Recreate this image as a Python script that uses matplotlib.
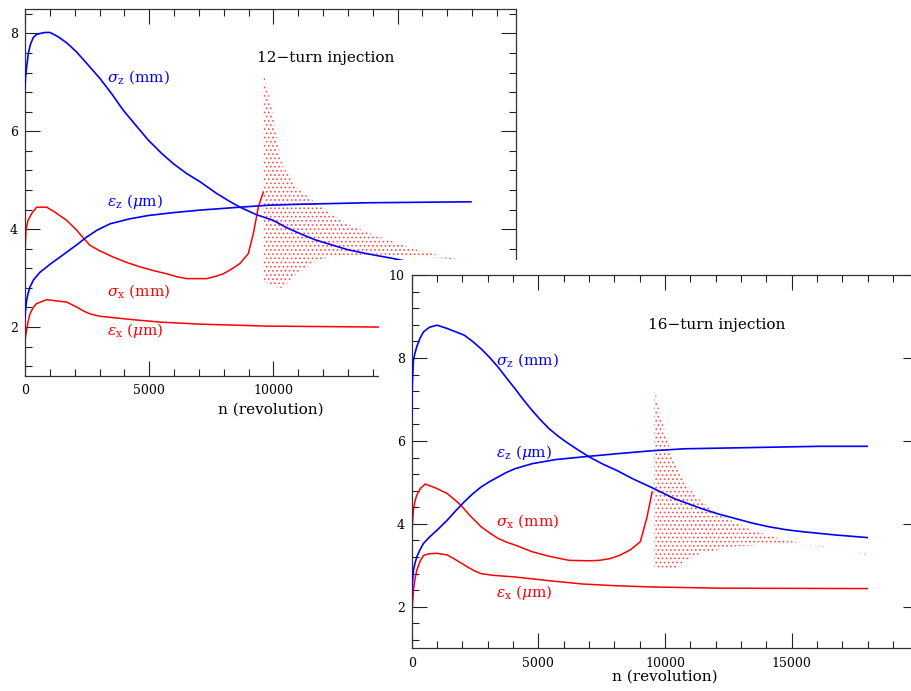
import matplotlib
matplotlib.use("Agg")
import matplotlib.pyplot as plt
from matplotlib.ticker import MultipleLocator, FixedLocator
from matplotlib.patches import Rectangle

plt.rcParams['font.family'] = ['DejaVu Serif']
plt.rcParams['mathtext.fontset'] = 'dejavuserif'
plt.rcParams['hatch.linewidth'] = 0.8

BLUE = '#0000ff'
RED = '#ff0000'

# ---------------- 12-turn injection (top-left panel) ----------------
t_sz_n = [0, 20, 67, 134, 220, 336, 470, 604, 800, 1006, 1200, 1342, 1700, 2080, 2500, 3019,
          3500, 3958, 4500, 4964, 5500, 5970, 6500, 7045, 7717, 8200, 8655, 9300, 9996,
          10500, 11071, 11700, 12412, 13000, 13756, 14827, 15500]
t_sz_v = [6.88, 7.10, 7.32, 7.59, 7.78, 7.92, 7.98, 8.00, 8.02, 8.02, 7.97, 7.93, 7.80, 7.62,
          7.38, 7.08, 6.76, 6.43, 6.10, 5.82, 5.55, 5.34, 5.14, 4.97, 4.73, 4.58, 4.45, 4.30,
          4.18, 4.04, 3.91, 3.78, 3.67, 3.58, 3.50, 3.40, 3.33]

t_ez_n = [0, 30, 67, 130, 201, 350, 604, 1000, 1678, 2080, 2483, 2900, 3422, 4200, 4964,
          6000, 7045, 8655, 9800, 11071, 13756, 17955]
t_ez_v = [2.20, 2.40, 2.55, 2.70, 2.82, 2.97, 3.12, 3.28, 3.53, 3.68, 3.84, 3.98, 4.11, 4.21,
          4.28, 4.34, 4.39, 4.45, 4.49, 4.51, 4.54, 4.56]

t_sx_n = [0, 15, 40, 120, 268, 470, 872, 1200, 1678, 2080, 2350, 2617, 3000, 3556, 4100,
          4630, 5200, 5703, 6100, 6508, 7313, 7700, 7985, 8300, 8655, 8990, 9192, 9393, 9594]
t_sx_v = [3.36, 3.70, 3.98, 4.18, 4.32, 4.45, 4.45, 4.35, 4.18, 3.98, 3.82, 3.67, 3.56, 3.43,
          3.32, 3.23, 3.15, 3.09, 3.03, 2.99, 2.99, 3.04, 3.09, 3.18, 3.30, 3.50, 3.91, 4.45, 4.76]

t_ex_n = [0, 40, 120, 201, 330, 470, 872, 1678, 2080, 2350, 2617, 3019, 3600, 4362, 5500,
          7045, 9730, 14265, 18000]
t_ex_v = [1.73, 1.86, 2.10, 2.27, 2.40, 2.48, 2.56, 2.51, 2.41, 2.33, 2.27, 2.22, 2.19, 2.15,
          2.10, 2.06, 2.02, 2.00, 1.99]

# scattered sigma_x points after ~9600 turns: upper / lower envelopes
t_dot_n = [9600, 9634, 9932, 10266, 10400, 10938, 11743, 12412, 12951, 14292, 15633, 16975, 17445]
t_dot_hi = [7.15, 7.15, 6.47, 5.48, 5.27, 4.86, 4.52, 4.30, 4.11, 3.84, 3.60, 3.43, 3.38]
t_dot_lo = [2.92, 2.92, 2.86, 2.79, 2.82, 3.09, 3.36, 3.45, 3.47, 3.48, 3.45, 3.40, 3.36]

# ---------------- 16-turn injection (bottom-right panel) ----------------
b_sz_n = [0, 20, 67, 130, 200, 330, 468, 700, 1003, 1404, 2072, 2400, 2741, 3080, 3409,
          3740, 4078, 4400, 4746, 5080, 5415, 5750, 6083, 6550, 7019, 7550, 8089, 8750, 9426,
          10362, 11431, 12100, 12768, 13437, 14105, 14774, 15442, 16110, 16779, 17982]
b_sz_v = [6.58, 7.30, 7.94, 8.12, 8.27, 8.48, 8.63, 8.74, 8.79, 8.71, 8.55, 8.40, 8.22, 8.01,
          7.78, 7.52, 7.26, 7.00, 6.74, 6.51, 6.30, 6.13, 5.98, 5.79, 5.61, 5.44, 5.29, 5.08,
          4.89, 4.61, 4.37, 4.24, 4.13, 4.02, 3.93, 3.86, 3.81, 3.77, 3.73, 3.67]

b_ez_n = [0, 30, 67, 130, 200, 330, 468, 700, 1003, 1404, 1700, 2072, 2400, 2741, 3080,
          3409, 3740, 4078, 4746, 5682, 7019, 8089, 9426, 10763, 13437, 16110, 17982]
b_ez_v = [2.32, 2.60, 2.88, 3.05, 3.20, 3.38, 3.53, 3.68, 3.85, 4.09, 4.29, 4.53, 4.72, 4.89,
          5.02, 5.13, 5.24, 5.33, 5.45, 5.55, 5.63, 5.69, 5.76, 5.81, 5.84, 5.87, 5.87]

b_sx_n = [0, 15, 40, 67, 130, 200, 350, 535, 800, 1003, 1404, 1700, 1939, 2300, 2741, 3080,
          3409, 3740, 4078, 4746, 5415, 6217, 7019, 7400, 7821, 8200, 8624, 9025, 9292, 9493]
b_sx_v = [3.37, 3.80, 4.10, 4.33, 4.55, 4.69, 4.86, 4.96, 4.90, 4.85, 4.73, 4.58, 4.45, 4.20,
          3.93, 3.78, 3.65, 3.56, 3.49, 3.33, 3.22, 3.12, 3.11, 3.12, 3.16, 3.24, 3.37, 3.57,
          4.17, 4.77]

b_ex_n = [0, 30, 67, 130, 200, 330, 468, 700, 1003, 1404, 1671, 1939, 2206, 2470, 2741,
          3200, 4078, 5415, 6752, 8000, 9426, 12100, 17982]
b_ex_v = [1.68, 2.05, 2.40, 2.67, 2.88, 3.10, 3.24, 3.28, 3.29, 3.25, 3.16, 3.06, 2.96, 2.87,
          2.80, 2.76, 2.72, 2.63, 2.55, 2.51, 2.48, 2.45, 2.44]

b_dot_n = [9580, 9627, 9827, 10094, 10228, 10495, 10763, 11030, 11431, 12100, 12768, 13437,
           14105, 14774, 15442, 16110, 16779, 17982]
b_dot_hi = [7.18, 7.18, 6.58, 6.02, 5.70, 5.33, 5.05, 4.81, 4.55, 4.25, 4.03, 3.85,
            3.72, 3.61, 3.53, 3.45, 3.40, 3.27]
b_dot_lo = [2.96, 2.96, 2.93, 2.90, 2.88, 2.95, 3.08, 3.18, 3.29, 3.38, 3.45, 3.48,
            3.51, 3.51, 3.49, 3.47, 3.41, 3.25]

x_major = [0, 5000, 10000, 15000]
y_major = [2, 4, 6, 8, 10]

W, H = 911, 691


def rect(left, top, right, bottom):
    return [left / W, 1 - bottom / H, (right - left) / W, (bottom - top) / H]


fig = plt.figure(figsize=(W / 100, H / 100), dpi=100)
fig.patch.set_facecolor('white')


def style(ax, xlim, ylim, minor_len, label_pad_x):
    ax.set_xlim(*xlim)
    ax.set_ylim(*ylim)
    ax.xaxis.set_major_locator(FixedLocator(x_major))
    ax.xaxis.set_minor_locator(MultipleLocator(1000))
    ax.yaxis.set_major_locator(FixedLocator(y_major))
    ax.yaxis.set_minor_locator(MultipleLocator(0.4))
    ax.tick_params(which='both', direction='in', top=True, right=True,
                   width=0.8, color='#222222', labelsize=9)
    ax.tick_params(which='major', length=10.5)
    ax.tick_params(which='minor', length=minor_len)
    ax.tick_params(axis='x', pad=label_pad_x)
    ax.tick_params(axis='y', pad=5)
    for s in ax.spines.values():
        s.set_linewidth(0.9)
        s.set_color('#333333')


def draw_panel(ax, dn, dlo, dhi, sxn, sxv, exn, exv, szn, szv, ezn, ezv):
    ax.fill_between(dn, dlo, dhi, facecolor='none', edgecolor=RED,
                    linewidth=0, hatch='....', alpha=0.6, zorder=1)
    ax.plot(sxn, sxv, color=RED, lw=1.1, zorder=2)
    ax.plot(exn, exv, color=RED, lw=1.1, zorder=2)
    ax.plot(szn, szv, color=BLUE, lw=1.2, zorder=3)
    ax.plot(ezn, ezv, color=BLUE, lw=1.2, zorder=3)


def labels(ax, xpos, y_sz, y_ez, y_sx, y_ex):
    ax.text(xpos, y_sz, r'$\sigma_{\rm z}$ (mm)', color=BLUE, fontsize=11, va='baseline')
    ax.text(xpos, y_ez, r'$\varepsilon_{\rm z}$ ($\mu$m)', color=BLUE, fontsize=11, va='baseline')
    ax.text(xpos, y_sx, r'$\sigma_{\rm x}$ (mm)', color=RED, fontsize=11, va='baseline')
    ax.text(xpos, y_ex, r'$\varepsilon_{\rm x}$ ($\mu$m)', color=RED, fontsize=11, va='baseline')


# top-left axes
ax1 = fig.add_axes(rect(25, 9, 516, 376))
ax1.set_zorder(1)
style(ax1, (0, 19767), (1, 8.5), 5, 6)
ax1.set_xlabel('n (revolution)', fontsize=11)
ax1.xaxis.set_label_coords(0.5, -0.072)
draw_panel(ax1, t_dot_n, t_dot_lo, t_dot_hi, t_sx_n, t_sx_v, t_ex_n, t_ex_v,
           t_sz_n, t_sz_v, t_ez_n, t_ez_v)
ax1.text(9327, 7.41, '12\u2212turn injection', fontsize=11, va='baseline', ha='left')
labels(ax1, 3300, 7.01, 4.47, 2.65, 1.84)

# white cover behind second panel
cover = Rectangle((379 / W, 0), 1, (H - 260) / H, transform=fig.transFigure,
                  facecolor='white', edgecolor='none', zorder=2)
fig.add_artist(cover)

# bottom-right axes
ax2 = fig.add_axes(rect(411.7, 275, 918.3, 648.3))
ax2.set_zorder(3)
style(ax2, (0, 20000), (1, 10), 5, 6)
ax2.set_xlabel('n (revolution)', fontsize=11)
ax2.xaxis.set_label_coords(0.5, -0.056)
draw_panel(ax2, b_dot_n, b_dot_lo, b_dot_hi, b_sx_n, b_sx_v, b_ex_n, b_ex_v,
           b_sz_n, b_sz_v, b_ez_n, b_ez_v)
ax2.text(9333, 8.71, '16\u2212turn injection', fontsize=11, va='baseline', ha='left')
labels(ax2, 3333, 7.83, 5.62, 3.97, 2.24)

fig.savefig('out.png', dpi=100, facecolor='white')
